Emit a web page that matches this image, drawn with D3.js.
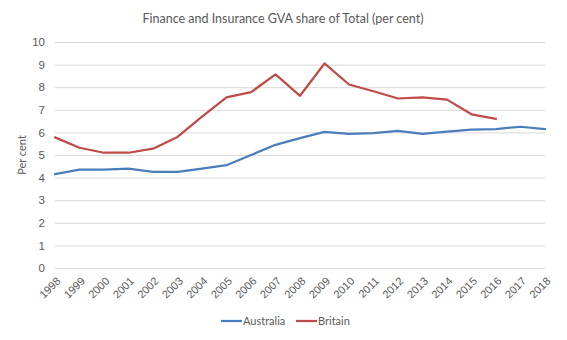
<!DOCTYPE html>
<html><head><meta charset="utf-8">
<script src="https://cdn.jsdelivr.net/npm/d3@7"></script>
<style>body{margin:0;background:#fff;} svg{display:block;font-family:Lato,"Open Sans",sans-serif;}</style>
</head><body><svg id="c" width="567" height="340"></svg>
<script>
const years = ["1998","1999","2000","2001","2002","2003","2004","2005","2006","2007","2008","2009","2010","2011","2012","2013","2014","2015","2016","2017","2018"];
const australia = [4.15,4.35,4.35,4.4,4.25,4.25,4.4,4.55,5.0,5.45,5.75,6.02,5.93,5.97,6.07,5.93,6.03,6.12,6.15,6.25,6.15];
const britain = [5.78,5.32,5.1,5.1,5.28,5.8,6.7,7.55,7.78,8.57,7.62,9.05,8.12,7.82,7.5,7.55,7.45,6.8,6.6];
const yTicks = [0,1,2,3,4,5,6,7,8,9,10];
const seriesNames = ["Australia","Britain"];
const colors = ["#4a7ebb","#be4b48"];

(function(){
const svg = d3.select("#c");
const mLeft = 55, mRight = 545, mTop = 42, mBottom = 268;
const x = d3.scalePoint().domain(years).range([mLeft, mRight]);
const y = d3.scaleLinear().domain([0,10]).range([mBottom, mTop]);

svg.append("text").attr("x", 283).attr("y", 23).attr("text-anchor","middle")
  .attr("font-size", 12.5).attr("fill","#595959").text("Finance and Insurance GVA share of Total (per cent)");

const yAxis = svg.append("g").attr("transform",`translate(${mLeft},0)`)
  .call(d3.axisLeft(y).tickValues(yTicks).tickSize(-(mRight-mLeft)).tickPadding(10).tickFormat(d3.format("d")));
yAxis.select(".domain").remove();
yAxis.selectAll(".tick line").attr("stroke","#d9d9d9").attr("stroke-width",1);
yAxis.selectAll(".tick text").attr("fill","#595959").attr("font-size",11.5);

const xAxis = svg.append("g").attr("transform",`translate(0,${mBottom})`)
  .call(d3.axisBottom(x).tickSize(0).tickPadding(6));
xAxis.select(".domain").remove();
xAxis.selectAll(".tick text").attr("fill","#595959").attr("font-size",11)
  .attr("text-anchor","end").attr("x",0).attr("y",0).attr("dy","0.35em")
  .attr("transform","translate(3,11) rotate(-45)");

svg.append("text").attr("transform",`translate(26,155) rotate(-90)`).attr("text-anchor","middle")
  .attr("font-size",11).attr("fill","#595959").text("Per cent");

const line = d3.line().x((d,i)=>x(years[i])).y(d=>y(d));
[australia, britain].forEach((s,k)=>{
  svg.append("path").datum(s).attr("d", line).attr("fill","none")
    .attr("stroke", colors[k]).attr("stroke-width",2.25).attr("stroke-linejoin","round").attr("stroke-linecap","round");
});

const lg = svg.append("g");
const lx = [221, 296];
seriesNames.forEach((n,k)=>{
  lg.append("line").attr("x1",lx[k]).attr("x2",lx[k]+21).attr("y1",321).attr("y2",321)
    .attr("stroke",colors[k]).attr("stroke-width",2.25);
  lg.append("text").attr("x",lx[k]+22).attr("y",325).attr("font-size",11).attr("fill","#595959").text(n);
});
})();
</script></body></html>
